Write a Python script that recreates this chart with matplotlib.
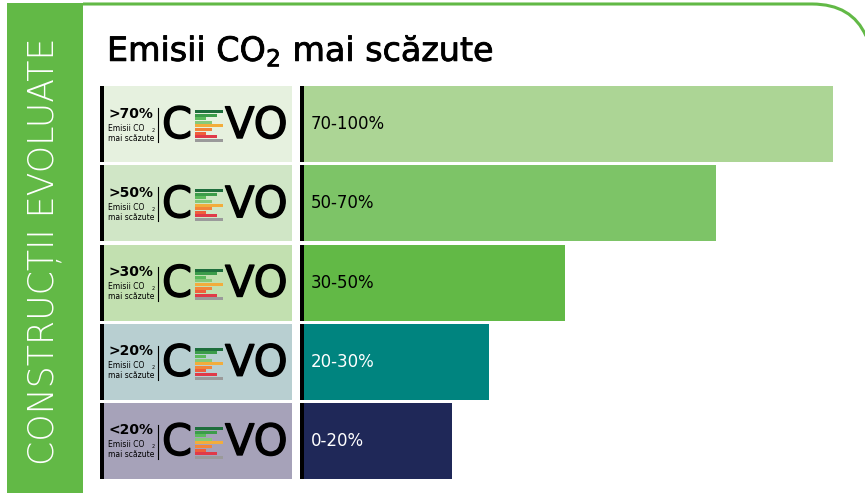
import matplotlib
matplotlib.use("Agg")
import matplotlib.pyplot as plt
import matplotlib.patheffects as pe
from matplotlib.patches import Rectangle, PathPatch
from matplotlib.path import Path

# data
ranges = ["70-100%", "50-70%", "30-50%", "20-30%", "0-20%"]
bar_lengths = [100, 77.9, 49.3, 35.0, 28.0]
thresholds = [">70%", ">50%", ">30%", ">20%", "<20%"]
bar_colors = ["#acd595", "#7dc467", "#62b946", "#00847f", "#1f2858"]
panel_colors = ["#e6f1df", "#d0e6c6", "#c2e0b0", "#b8cfd1", "#a6a2b9"]
text_colors = ["black", "black", "black", "white", "white"]

# little "E" of the CEVO logo
logo_len = [28, 22, 11, 17, 28, 17, 11, 22, 28]
logo_cols = ["#1e6e3c", "#3c9c4a", "#5cbb5c", "#86c97a", "#f2ad3c",
             "#f2853a", "#ef5f3a", "#e03a48", "#9a9a9a"]

W, H = 865, 493
green = "#62b946"
fig = plt.figure(figsize=(W / 100, H / 100), dpi=100)


def fx(px):
    return px / W


def fy(py):
    return 1 - py / H


# left band + frame line
fig.add_artist(Rectangle((fx(7), 0), fx(83) - fx(7), fy(3), transform=fig.transFigure,
                         facecolor=green, edgecolor="none", zorder=0))
verts = [(fx(83), fy(4)), (fx(812), fy(4)), (fx(852), fy(4)), (fx(866), fy(36))]
codes = [Path.MOVETO, Path.LINETO, Path.CURVE3, Path.CURVE3]
fig.add_artist(PathPatch(Path(verts, codes), transform=fig.transFigure, fill=False,
                         edgecolor=green, lw=2.2))
fig.text(fx(45), fy(251), "CONSTRUCȚII EVOLUATE", rotation=90, color="white",
         fontsize=25, fontweight="light", ha="center", va="center")

fig.text(fx(107), fy(61), r"Emisii CO$_2$ mai scăzute", fontsize=24,
         ha="left", va="baseline", color="black",
         path_effects=[pe.withStroke(linewidth=0.6, foreground="black")])

row_top, row_bot = 84.4, 480.6
n = len(ranges)
pitch = (row_bot - row_top) / n
y = list(range(n))

# bar axes
px_per = 5.29
ax = fig.add_axes([fx(300), fy(row_bot), fx(865) - fx(300), fy(row_top) - fy(row_bot)])
ax.barh(y, bar_lengths, height=76 / pitch, color=bar_colors)
ax.barh(y, [4 / px_per] * n, left=-4 / px_per, height=76 / pitch, color="black")
for i in y:
    ax.text(7 / px_per, i, ranges[i], color=text_colors[i], fontsize=12, va="center", ha="left")
ax.set_xlim(-4 / px_per, (865 - 304) / px_per)
ax.set_ylim(n - 0.5, -0.5)
ax.axis("off")

# label panel axes (x in pixels)
ap = fig.add_axes([fx(100), fy(row_bot), fx(292) - fx(100), fy(row_top) - fy(row_bot)])
ap.barh(y, [192] * n, height=76 / pitch, color=panel_colors)
ap.barh(y, [3.5] * n, height=76 / pitch, color="black")
d = 1 / pitch
thick = [pe.withStroke(linewidth=1.0, foreground="black")]
for i in y:
    ap.text(8, i - 10.5 * d, thresholds[i], fontsize=10, fontweight="bold", va="center", ha="left")
    ap.text(8, i + 4 * d, "Emisii CO", fontsize=5.5, va="center", ha="left")
    ap.text(52, i + 6 * d, "2", fontsize=3.5, va="center", ha="left")
    ap.text(8, i + 14 * d, "mai scăzute", fontsize=5.5, va="center", ha="left")
    ap.plot([58, 58], [i - 16 * d, i + 18 * d], color="black", lw=0.8)
    ap.text(62, i + 2 * d, "C", fontsize=31, va="center", ha="left", path_effects=thick)
    ap.text(125, i + 2 * d, "VO", fontsize=31, va="center", ha="left", path_effects=thick)
    ys = [i + (-12.5 + 3.6 * k) * d for k in range(len(logo_len))]
    ap.barh(ys, logo_len, left=95, height=3.0 * d, color=logo_cols)
ap.set_xlim(0, 192)
ap.set_ylim(n - 0.5, -0.5)
ap.axis("off")

fig.savefig("out.png", dpi=100)
